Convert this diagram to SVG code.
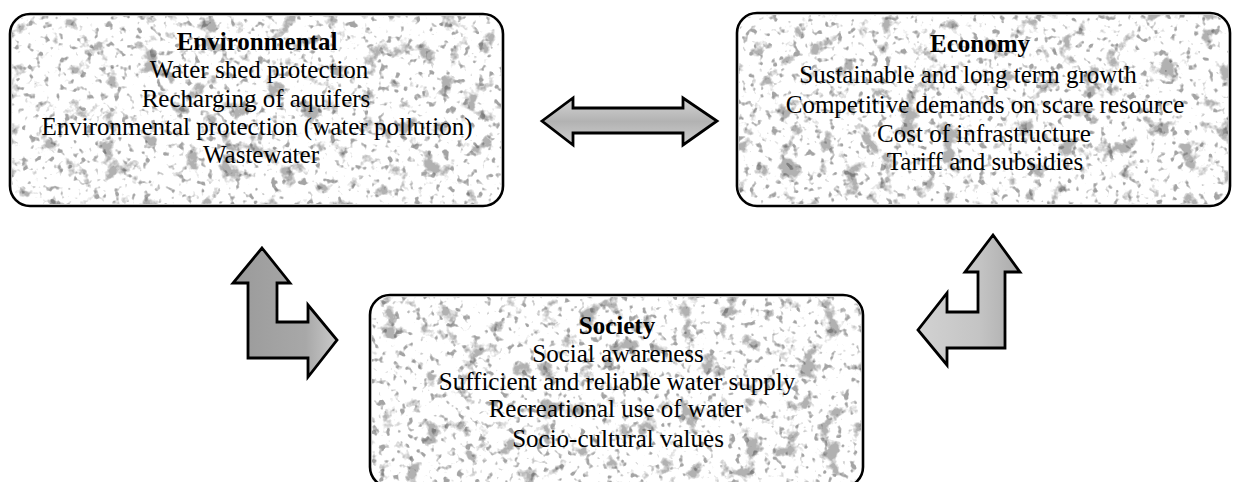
<svg xmlns="http://www.w3.org/2000/svg" width="1234" height="482" viewBox="0 0 1234 482">
<defs>
<style>
.box{fill:#ffffff;stroke:#000000;stroke-width:2.6}
.tex{fill:#000000;opacity:0.5}
.t{font-family:"Liberation Serif","Times New Roman",serif;font-size:25px;fill:#000000;text-anchor:middle}
.h{font-weight:bold}
.arr{stroke:#000000;stroke-width:2.8;stroke-linejoin:miter}
</style>
<filter id="mottle" x="0" y="0" width="1" height="1" color-interpolation-filters="sRGB">
<feTurbulence type="fractalNoise" baseFrequency="0.05" numOctaves="4" seed="7" result="n"/>
<feColorMatrix in="n" type="matrix" values="0 0 0 0 0.4  0 0 0 0 0.4  0 0 0 0 0.4  8 0 0 0 -4.75" result="b"/>
<feComposite in="b" in2="SourceAlpha" operator="in"/>
</filter>
<filter id="mottle2" x="0" y="0" width="1" height="1" color-interpolation-filters="sRGB">
<feTurbulence type="fractalNoise" baseFrequency="0.14" numOctaves="2" seed="3" result="n"/>
<feColorMatrix in="n" type="matrix" values="0 0 0 0 0.3  0 0 0 0 0.3  0 0 0 0 0.3  7 0 0 0 -4.2" result="b"/>
<feComposite in="b" in2="SourceAlpha" operator="in"/>
</filter>
<linearGradient id="gL" x1="233" y1="0" x2="337" y2="0" gradientUnits="userSpaceOnUse">
<stop offset="0" stop-color="#9a9a9a"/>
<stop offset="0.7" stop-color="#a8a8a8"/>
<stop offset="1" stop-color="#cacaca"/>
</linearGradient>
<linearGradient id="gR" x1="918" y1="0" x2="1020" y2="0" gradientUnits="userSpaceOnUse">
<stop offset="0" stop-color="#d2d2d2"/>
<stop offset="0.6" stop-color="#c4c4c4"/>
<stop offset="1" stop-color="#ababab"/>
</linearGradient>
<linearGradient id="gD" x1="0" y1="98" x2="0" y2="145" gradientUnits="userSpaceOnUse">
<stop offset="0" stop-color="#d4d4d4"/>
<stop offset="0.5" stop-color="#b2b2b2"/>
<stop offset="1" stop-color="#d0d0d0"/>
</linearGradient>
</defs>
<rect x="0" y="0" width="1234" height="482" fill="#ffffff"/>

<g id="environmental">
<rect class="box" x="10" y="14" width="493" height="192" rx="20" ry="20"/>
<rect class="tex" x="12" y="16" width="489" height="188" rx="18" filter="url(#mottle)"/>
<rect class="tex" x="12" y="16" width="489" height="188" rx="18" filter="url(#mottle2)" opacity="0.4"/>
<text class="t h" x="257" y="50">Environmental</text>
<text class="t" x="259" y="78">Water shed protection</text>
<text class="t" x="256" y="107">Recharging of aquifers</text>
<text class="t" x="257" y="135">Environmental protection (water pollution)</text>
<text class="t" x="261" y="163">Wastewater</text>
</g>

<g id="economy">
<rect class="box" x="737" y="13" width="493" height="193" rx="20" ry="20"/>
<rect class="tex" x="739" y="15" width="489" height="189" rx="18" filter="url(#mottle)"/>
<rect class="tex" x="739" y="15" width="489" height="189" rx="18" filter="url(#mottle2)" opacity="0.4"/>
<text class="t h" x="980" y="52">Economy</text>
<text class="t" x="968" y="83">Sustainable and long term growth</text>
<text class="t" x="985" y="112.5">Competitive demands on scare resource</text>
<text class="t" x="984" y="141.5">Cost of infrastructure</text>
<text class="t" x="985" y="170">Tariff and subsidies</text>
</g>

<g id="society">
<rect class="box" x="370" y="295" width="493" height="192" rx="20" ry="20"/>
<rect class="tex" x="372" y="297" width="489" height="188" rx="18" filter="url(#mottle)"/>
<rect class="tex" x="372" y="297" width="489" height="188" rx="18" filter="url(#mottle2)" opacity="0.4"/>
<text class="t h" x="617" y="334">Society</text>
<text class="t" x="618" y="362">Social awareness</text>
<text class="t" x="617" y="390">Sufficient and reliable water supply</text>
<text class="t" x="616" y="417">Recreational use of water</text>
<text class="t" x="618" y="447">Socio-cultural values</text>
</g>

<g id="connectors">
<path class="arr" fill="url(#gD)" d="M542,121 L573,98 L573,108 L683,108 L683,98 L717,121 L683,145 L683,133 L573,133 L573,145 Z"/>
<path class="arr" fill="url(#gL)" d="M262,248 L290,283 L277,283 L277,322 L308,322 L308,305 L337,340 L308,377 L308,358 L248,358 L248,283 L233,283 Z"/>
<path class="arr" fill="url(#gR)" d="M993,235 L1020,272 L1005,272 L1005,348 L947,348 L947,365 L918,330 L947,293 L947,312 L978,312 L978,272 L965,272 Z"/>
</g>
</svg>
